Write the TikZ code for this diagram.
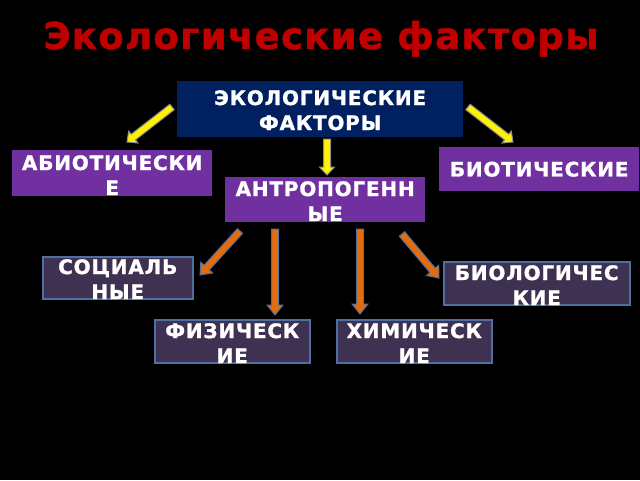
\documentclass[tikz,border=0pt]{standalone}
\usepackage{fontspec}
\usetikzlibrary{calc}
\setmainfont{DejaVu Sans}
\newfontfamily\boxfont[LetterSpace=4,FakeBold=1.2]{DejaVu Sans Bold}
\newfontfamily\titlefont[LetterSpace=3.5,FakeBold=1.2]{DejaVu Sans Bold}
\definecolor{navy}{HTML}{002060}
\definecolor{purp}{HTML}{7030A0}
\definecolor{dpurp}{HTML}{3F3151}
\definecolor{bgray}{HTML}{4F6F9F}
\definecolor{ttlred}{HTML}{C00000}
\definecolor{orng}{HTML}{E46C0A}
\definecolor{ygray}{HTML}{8C8C8C}
\newcommand{\blkarrow}[6]{% start, end, style, shaft half, head half, head length
  \coordinate (ba-n) at ($(#2)!#6!(#1)$);
  \draw[#3] ($(#1)!#4!90:(#2)$) -- ($(ba-n)!#4!90:(#2)$) -- ($(ba-n)!#5!90:(#2)$) -- (#2)
    -- ($(ba-n)!#5!-90:(#2)$) -- ($(ba-n)!#4!-90:(#2)$) -- ($(#1)!#4!-90:(#2)$) -- cycle;}
\tikzset{
  box/.style={rectangle, inner sep=0pt, anchor=north west},
  navybox/.style={box, fill=navy},
  purpbox/.style={box, fill=purp},
  darkbox/.style={box, fill=dpurp, draw=bgray, line width=1.5pt},
  boxtxt/.style={inner sep=0pt, text=white, align=center, font=\boxfont\fontsize{20}{25}\selectfont},
  yarrow/.style={fill=yellow, draw=ygray, line width=1pt, line join=miter},
  oarrow/.style={fill=orng, draw=bgray, line width=1pt, line join=miter},
}
\begin{document}
\begin{tikzpicture}[x=1pt, y=-1pt]
\fill[black] (0,0) rectangle (640,480);
\useasboundingbox (0,0) rectangle (640,480);
% title
\node[font=\titlefont\fontsize{37}{42}\selectfont, text=ttlred, inner sep=0pt, anchor=base] (title) at (321,49) {Экологические факторы};
% boxes
\node[navybox, minimum width=286pt, minimum height=56pt] (eco) at (177,81) {};
\node[purpbox, minimum width=200pt, minimum height=46pt] (abio) at (12,150) {};
\node[purpbox, minimum width=200pt, minimum height=44pt] (bio) at (439,147) {};
\node[purpbox, minimum width=200pt, minimum height=45pt] (antr) at (225,177) {};
\node[darkbox, minimum width=150pt, minimum height=42pt] (soc) at (42,256) {};
\node[darkbox, minimum width=186pt, minimum height=43pt] (biol) at (443,261) {};
\node[darkbox, minimum width=155pt, minimum height=43pt] (fiz) at (154,319) {};
\node[darkbox, minimum width=155pt, minimum height=43pt] (him) at (336,319) {};
% texts
\node[boxtxt, anchor=north] (ecot) at ($(eco.north)+(0,9)$) {ЭКОЛОГИЧЕСКИЕ\\ФАКТОРЫ};
\node[boxtxt, anchor=north] (abiot) at ($(abio.north)+(0,5)$) {АБИОТИЧЕСКИ\\Е};
\node[boxtxt] (biot) at (bio.center) {БИОТИЧЕСКИЕ};
\node[boxtxt, anchor=north] (antrt) at ($(antr.north)+(0,4)$) {АНТРОПОГЕНН\\ЫЕ};
\node[boxtxt, anchor=north] (soct) at ($(soc.north)+(0,3)$) {СОЦИАЛЬ\\НЫЕ};
\node[boxtxt, anchor=north] (biolt) at ($(biol.north)+(0,4)$) {БИОЛОГИЧЕС\\КИЕ};
\node[boxtxt, anchor=north] (fizt) at ($(fiz.north)+(0,4)$) {ФИЗИЧЕСК\\ИЕ};
\node[boxtxt, anchor=north] (himt) at ($(him.north)+(0,4)$) {ХИМИЧЕСК\\ИЕ};
% arrow end points
\coordinate (y1s) at (172,107); \coordinate (y1e) at (127,142);
\coordinate (y2s) at (327,139); \coordinate (y2e) at (327,175);
\coordinate (y3s) at (468,107); \coordinate (y3e) at (513,142);
\coordinate (o1s) at (240,231); \coordinate (o1e) at (200,275);
\coordinate (o2s) at (275,229); \coordinate (o2e) at (275,315);
\coordinate (o3s) at (360,229); \coordinate (o3e) at (360,314);
\coordinate (o4s) at (402,234); \coordinate (o4e) at (439,278);
\blkarrow{y1s}{y1e}{yarrow}{3.5pt}{7.5pt}{8pt}
\blkarrow{y2s}{y2e}{yarrow}{3.5pt}{7.5pt}{8pt}
\blkarrow{y3s}{y3e}{yarrow}{3.5pt}{7.5pt}{8pt}
\blkarrow{o1s}{o1e}{oarrow}{3.5pt}{8pt}{10pt}
\blkarrow{o2s}{o2e}{oarrow}{3.5pt}{8pt}{10pt}
\blkarrow{o3s}{o3e}{oarrow}{3.5pt}{8pt}{10pt}
\blkarrow{o4s}{o4e}{oarrow}{3.5pt}{8pt}{10pt}
\end{tikzpicture}
\end{document}
